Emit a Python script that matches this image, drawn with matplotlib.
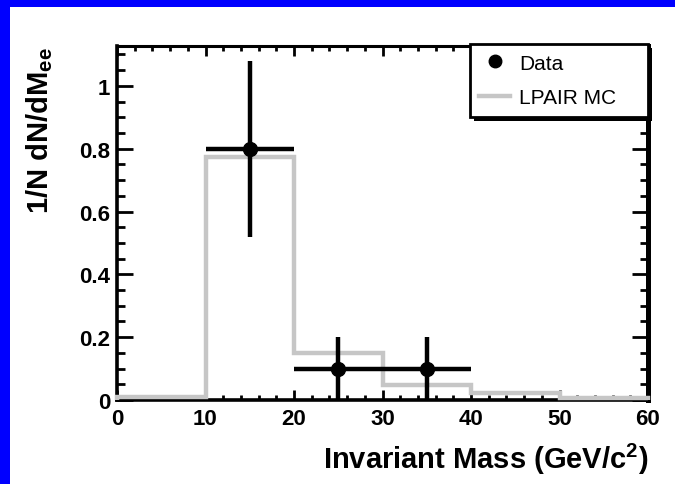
import matplotlib
matplotlib.use("Agg")
import matplotlib.pyplot as plt
from matplotlib.patches import Rectangle
from matplotlib.lines import Line2D
from matplotlib.ticker import MultipleLocator, FixedLocator, FixedFormatter

# ---- data ----
data_x = [15, 25, 35]
data_y = [0.80, 0.10, 0.10]
data_xerr = [5, 5, 5]
data_yerr = [0.28, 0.10, 0.10]

mc_edges = [0, 10, 20, 30, 40, 50, 60]
mc_values = [0.008, 0.774, 0.15, 0.048, 0.021, 0.006]

xticks = [0, 10, 20, 30, 40, 50, 60]
xtick_labels = ["0", "10", "20", "30", "40", "50", "60"]
yticks = [0, 0.2, 0.4, 0.6, 0.8, 1.0]
ytick_labels = ["0", "0.2", "0.4", "0.6", "0.8", "1"]

plt.rcParams['font.family'] = ['Liberation Sans', 'DejaVu Sans']
plt.rcParams['mathtext.fontset'] = 'custom'
plt.rcParams['mathtext.rm'] = 'Liberation Sans:bold'
plt.rcParams['mathtext.bf'] = 'Liberation Sans:bold'
plt.rcParams['mathtext.it'] = 'Liberation Sans:bold'

W, H = 675, 485
fig = plt.figure(figsize=(W / 100, H / 100), dpi=100, facecolor='white')

# blue frame (top and left strips)
fig.patches.append(Rectangle((0, 1 - 8 / H), 1, 8 / H, transform=fig.transFigure,
                             facecolor='#0000ff', edgecolor='none', zorder=0))
fig.patches.append(Rectangle((0, 0), 10 / W, 1, transform=fig.transFigure,
                             facecolor='#0000ff', edgecolor='none', zorder=0))

ax_l, ax_r, ax_t, ax_b = 117, 648, 47, 401
ax = fig.add_axes([ax_l / W, (H - ax_b) / H, (ax_r - ax_l) / W, (ax_b - ax_t) / H])

# MC histogram
mc = ax.stairs(mc_values, mc_edges, color='#c6c6c6', linewidth=3.2, zorder=3,
               baseline=0, clip_on=False, label='LPAIR MC')

# Data points with error bars
ax.errorbar(data_x, data_y, xerr=data_xerr, yerr=data_yerr, fmt='none',
            ecolor='black', elinewidth=3.2, capsize=0, zorder=4, clip_on=False)
pts, = ax.plot(data_x, data_y, 'o', color='black', markersize=10, zorder=5,
               linestyle='none', label='Data')

ax.set_xlim(0, 60)
ax.set_ylim(0, 1.127)

ax.xaxis.set_major_locator(FixedLocator(xticks))
ax.xaxis.set_major_formatter(FixedFormatter(xtick_labels))
ax.xaxis.set_minor_locator(MultipleLocator(2))
ax.yaxis.set_major_locator(FixedLocator(yticks))
ax.yaxis.set_major_formatter(FixedFormatter(ytick_labels))
ax.yaxis.set_minor_locator(MultipleLocator(0.05))

ax.tick_params(axis='both', which='both', direction='in', top=True, right=True,
               color='black', width=2.0)
ax.tick_params(axis='x', which='major', length=7.5, pad=6)
ax.tick_params(axis='x', which='minor', length=3.8)
ax.tick_params(axis='y', which='major', length=11.5, pad=5)
ax.tick_params(axis='y', which='minor', length=5.8)
for lbl in ax.get_xticklabels() + ax.get_yticklabels():
    lbl.set_fontsize(16)
    lbl.set_fontweight('bold')

for s in ['left', 'bottom']:
    ax.spines[s].set_linewidth(2.6)
ax.spines['top'].set_linewidth(2.2)
ax.spines['right'].set_linewidth(3.6)

ax.set_xlabel('Invariant Mass (GeV/c$^{2}$)', fontsize=21, fontweight='bold',
              ha='right', va='center')
ax.xaxis.set_label_coords(1.0, -0.165)
ax.set_ylabel('1/N dN/dM$_{ee}$', fontsize=21, fontweight='bold', loc='top',
              va='center')
ax.yaxis.set_label_coords(-0.145, 1.0)

# Legend
leg = ax.legend(handles=[pts, mc], labels=['Data', 'LPAIR MC'],
                loc='upper left', bbox_to_anchor=(0.665, 0.0, 0.335, 1.005),
                mode='expand', borderaxespad=0, fontsize=15, frameon=True,
                fancybox=False, edgecolor='black', framealpha=1,
                borderpad=0.45, labelspacing=0.75, handlelength=1.45,
                handletextpad=0.45)
leg.get_frame().set_linewidth(2.0)
leg.set_zorder(10)
for h in leg.legend_handles:
    if hasattr(h, 'set_linewidth') and not isinstance(h, Line2D):
        h.set_linewidth(4)
leg.legend_handles[0].set_markersize(9)

fig.canvas.draw()
bb = leg.get_window_extent()
inv = ax.transAxes.inverted()
(x0, y0), (x1, y1) = inv.transform([[bb.x0, bb.y0], [bb.x1, bb.y1]])
sh = Rectangle((x0 + 0.008, y0 - 0.012), x1 - x0, y1 - y0, transform=ax.transAxes,
               facecolor='black', edgecolor='none', zorder=9, clip_on=False)
ax.add_patch(sh)

fig.savefig('out.png', dpi=100, facecolor='white')
